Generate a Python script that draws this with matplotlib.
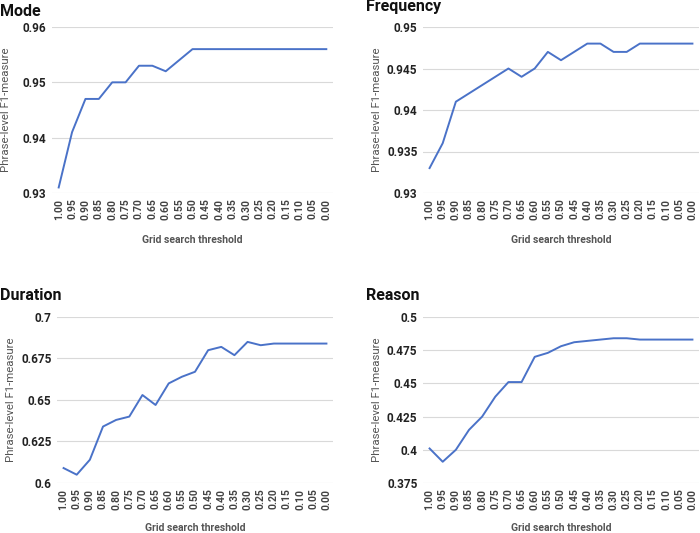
import matplotlib
matplotlib.use("Agg")
import matplotlib.pyplot as plt
import numpy as np

plt.rcParams['font.family'] = ['Roboto', 'DejaVu Sans']

thresholds = ["1.00", "0.95", "0.90", "0.85", "0.80", "0.75", "0.70", "0.65", "0.60", "0.55", "0.50",
              "0.45", "0.40", "0.35", "0.30", "0.25", "0.20", "0.15", "0.10", "0.05", "0.00"]

mode = [0.931, 0.941, 0.947, 0.947, 0.950, 0.950, 0.953, 0.953, 0.952, 0.954, 0.956,
        0.956, 0.956, 0.956, 0.956, 0.956, 0.956, 0.956, 0.956, 0.956, 0.956]
frequency = [0.933, 0.936, 0.941, 0.942, 0.943, 0.944, 0.945, 0.944, 0.945, 0.947, 0.946,
             0.947, 0.948, 0.948, 0.947, 0.947, 0.948, 0.948, 0.948, 0.948, 0.948]
duration = [0.609, 0.605, 0.614, 0.634, 0.638, 0.640, 0.653, 0.647, 0.660, 0.664, 0.667,
            0.680, 0.682, 0.677, 0.685, 0.683, 0.684, 0.684, 0.684, 0.684, 0.684]
reason = [0.401, 0.391, 0.400, 0.415, 0.425, 0.440, 0.451, 0.451, 0.470, 0.473, 0.478,
          0.481, 0.482, 0.483, 0.484, 0.484, 0.483, 0.483, 0.483, 0.483, 0.483]

mode_ticks = [0.93, 0.94, 0.95, 0.96]
frequency_ticks = [0.93, 0.935, 0.94, 0.945, 0.95]
duration_ticks = [0.6, 0.625, 0.65, 0.675, 0.7]
reason_ticks = [0.375, 0.4, 0.425, 0.45, 0.475, 0.5]

W, H = 700, 533
fig = plt.figure(figsize=(7, 5.33), dpi=100)

# (title, values, ticks, left px, right px, top px, bottom px, title x, title y, xlabel y)
panels = [
    ("Mode", mode, mode_ticks, 52, 333, 27, 193, 0, 12, 240),
    ("Frequency", frequency, frequency_ticks, 423, 699, 27, 193, 366, 7, 240),
    ("Duration", duration, duration_ticks, 57, 333, 317, 483, 0, 296, 528),
    ("Reason", reason, reason_ticks, 423, 699, 317, 483, 366, 296, 528),
]

x = np.arange(len(thresholds))
for title, vals, ticks, l, r, t, b, tx, ty, xly in panels:
    ax = fig.add_axes([l / W, 1 - b / H, (r - l) / W, (b - t) / H])
    ax.plot(x, vals, color="#4a72c8", linewidth=1.4)
    ax.set_xlim(-0.5, len(thresholds) - 0.5)
    ax.set_ylim(ticks[0], ticks[-1])
    ax.set_yticks(ticks)
    ax.set_yticklabels(["%g" % v for v in ticks], fontsize=8.5, fontweight="bold", color="#222222")
    ax.set_xticks(x)
    ax.set_xticklabels(thresholds, rotation=90, fontsize=7.5, fontweight="bold", color="#444444")
    ax.tick_params(length=0, pad=4)
    ax.grid(axis="y", color="#d9d9d9", linewidth=0.8)
    ax.set_axisbelow(True)
    for s in ax.spines.values():
        s.set_visible(False)
    fig.text(tx / W, 1 - ty / H, title, fontsize=11.5, fontweight="bold", color="#111111",
             ha="left", va="center")
    fig.text((l - 46) / W, 1 - ((t + b) / 2) / H, "Phrase-level F1-measure", rotation=90,
             fontsize=8.2, color="#555555", ha="center", va="center")
    fig.text(((l + r) / 2) / W, 1 - xly / H, "Grid search threshold", fontsize=7.5,
             fontweight="bold", color="#555555", ha="center", va="center")

fig.savefig("out.png", dpi=100)
